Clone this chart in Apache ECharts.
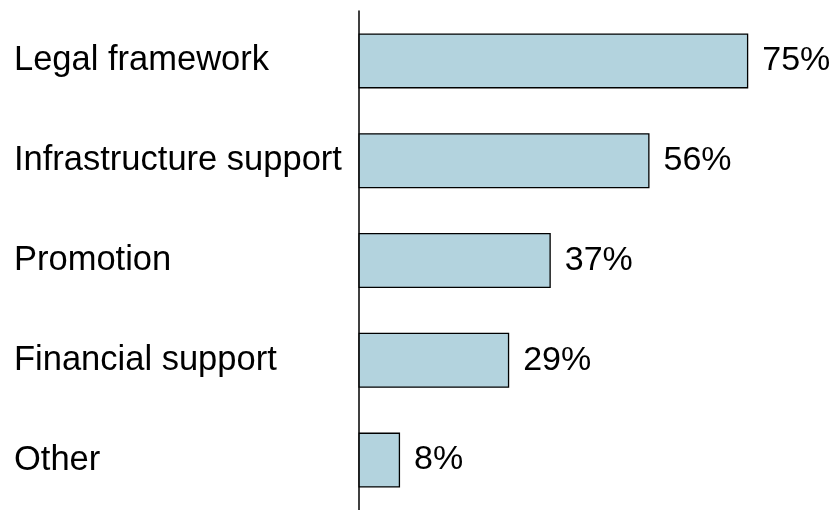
<!DOCTYPE html>
<html>
<head>
<meta charset="utf-8">
<script src="https://cdn.jsdelivr.net/npm/echarts@6/dist/echarts.min.js"></script>
<style>
  html, body { margin: 0; padding: 0; background: #fff; }
  #chart { width: 834px; height: 510px; }
</style>
</head>
<body>
<div id="chart"></div>
<script>
// Share of respondents naming each measure (percent)
const categories = ['Legal framework', 'Infrastructure support', 'Promotion', 'Financial support', 'Other'];
const shares = [75, 56, 37, 29, 8];

const chart = echarts.init(document.getElementById('chart'));
const font = '"Liberation Sans", Arial, sans-serif';

chart.setOption({
  animation: false,
  grid: { left: 358.5, top: 11, right: 0, height: 505, containLabel: false },
  xAxis: {
    type: 'value', min: 0, max: 91.5, show: false
  },
  yAxis: {
    type: 'category',
    data: categories,
    inverse: true,
    axisLine: { show: true, lineStyle: { color: '#000', width: 1.5 } },
    axisTick: { show: false },
    axisLabel: {
      align: 'left',
      margin: 344.5,
      color: '#000',
      fontFamily: font,
      fontSize: 34.5
    }
  },
  series: [{
    type: 'bar',
    data: shares,
    barWidth: 55,
    itemStyle: { color: '#b3d3de', borderColor: '#000', borderWidth: 1.3 },
    label: {
      show: true,
      position: 'right',
      distance: 14,
      formatter: '{c}%',
      color: '#000',
      fontFamily: font,
      fontSize: 34
    }
  }]
});
</script>
</body>
</html>
